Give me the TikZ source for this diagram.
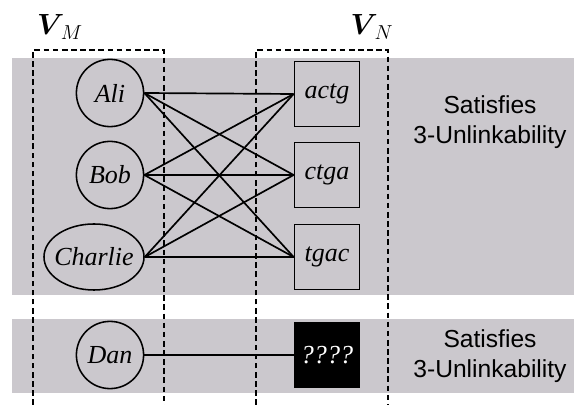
\documentclass[tikz,border=0pt]{standalone}
\usepackage{amsmath,amssymb}
\usepackage{fontspec}
\setmainfont{Liberation Serif}
\setsansfont{Liberation Sans}
\usepackage{tikz}
\usetikzlibrary{shapes.geometric, positioning}
\definecolor{bandgray}{RGB}{203,200,205}

\begin{document}
\begin{tikzpicture}[x=0.025cm, y=-0.025cm]
        % Node styles
        \tikzstyle{person}=[circle, draw, line width=1.1pt, inner sep=0pt, minimum size=1.68cm, font=\fontsize{18.5}{20}\selectfont\itshape]
        \tikzstyle{longperson}=[ellipse, draw, line width=1.1pt, inner xsep=-3.5pt, inner ysep=0pt, minimum width=2.5cm, minimum height=1.65cm, font=\fontsize{18.5}{20}\selectfont\itshape]
        \tikzstyle{record}=[rectangle, draw, line width=1.1pt, inner sep=0pt, minimum size=1.63cm, font=\fontsize{18.5}{20}\selectfont\itshape]
        \tikzstyle{link}=[line width=1.2pt]
        \tikzstyle{setbox}=[line width=1.3pt, dash pattern=on 4pt off 2.5pt]
        \tikzstyle{setname}=[font=\fontsize{21}{24}\selectfont]
        \tikzstyle{verdict}=[align=center, font=\sffamily\fontsize{17.5}{21.5}\selectfont]

        \useasboundingbox (0,0) rectangle (574,405);

        % Gray bands
        \fill[bandgray] (12,58) rectangle (574,295);
        \fill[bandgray] (12,319) rectangle (574,393);

        % Dashed sets
        \draw[setbox] (33,405) -- (33,50) -- (164,50) -- (164,405);
        \draw[setbox] (256,405) -- (256,50) -- (388,50) -- (388,405);
        \node (VM)[setname] at (60,27) {$\boldsymbol{V}_{\!M}$};
        \node (VN)[setname] at (372,27) {$\boldsymbol{V}_{\!N}$};

        % People
        \node (Ali)[person] at (110,93) {Ali};
        \node (Bob)[person] at (110,175) {Bob};
        \node (Charlie)[longperson] at (94,257) {Charlie};
        \node (Dan)[person] at (110,355) {Dan};

        % Records
        \node (actg)[record] at (327,94) {actg};
        \node (ctga)[record] at (327,175) {ctga};
        \node (tgac)[record] at (327,257) {tgac};
        \node (hidden)[record, fill=black, text=white] at (327,355) {????};

        % Complete bipartite links
        \foreach \p in {Ali,Bob,Charlie}
            \foreach \r in {actg,ctga,tgac}
                \draw[link] (\p.east) -- (\r.west);
        \draw[link] (Dan.east) -- (hidden.west);

        % Labels on the right
        \node (top)[verdict] at (490,122) {Satisfies\\3-Unlinkability};
        \node (bottom)[verdict] at (490,356) {Satisfies\\3-Unlinkability};
    \end{tikzpicture}
\end{document}
